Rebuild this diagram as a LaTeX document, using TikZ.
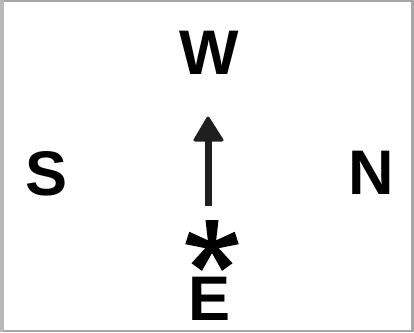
\documentclass[tikz,border=0pt]{standalone}
\usepackage{fontspec}
\setmainfont{Liberation Sans}
\begin{document}
\begin{tikzpicture}[x=1pt,y=-1pt,
  lbl/.style={font=\bfseries\fontsize{63}{63}\selectfont, inner sep=0pt, anchor=base, text=black},
  armw/.style={fill=black}]
\useasboundingbox (0,0) rectangle (414,332);
% frame
\fill[gray!70] (0,0) rectangle (414,332);
\fill[white] (4,2) rectangle (411,330);
\fill[gray!55] (0,0) rectangle (4,332);
% labels
\node[lbl] (w) at (209,74) {W};
\node[lbl] (s) at (47,195) {S};
\node[lbl] (n) at (371,194) {N};
\node[lbl] (e) at (210,320) {E};
% arrow
\coordinate (tail) at (208,206);
\coordinate (head) at (208,139);
\coordinate (tip) at (208,118);
\draw[line width=7pt, draw=black!88] (tail) -- (head);
\filldraw[black!88, line width=3pt, line join=round] (tip) -- (195,140) -- (222,140) -- cycle;
% asterisk
\coordinate (ast) at (212,246);
\foreach \a in {90,18,162,234,306}{
  \fill[rotate around={\a:(ast)}] ([shift={(0,3.5)}]ast) -- ([shift={(0,-3.5)}]ast) -- ([shift={(26,-6.5)}]ast) -- ([shift={(26,6.5)}]ast) -- cycle;
}
\end{tikzpicture}
\end{document}
